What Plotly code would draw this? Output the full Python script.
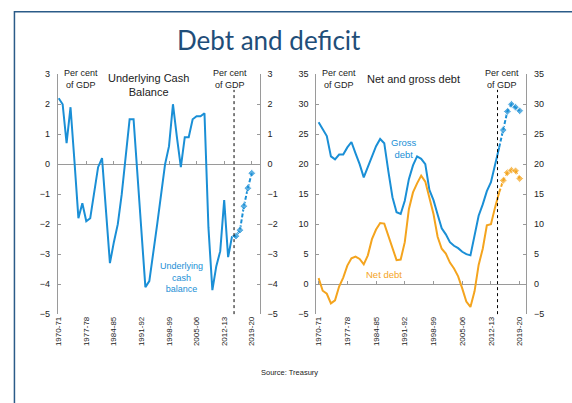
import plotly.graph_objects as go

# Financial years 1970-71 .. 2019-20
years = [f"{y}-{(y + 1) % 100:02d}" for y in range(1970, 2020)]
tick_years = years[::7]

# Underlying cash balance, per cent of GDP
ucb_actual = [2.2, 2.0, 0.7, 1.9, 0.1, -1.8, -1.3, -1.9, -1.8, -0.9,
              -0.1, 0.2, -1.5, -3.3, -2.6, -2.0, -1.0, 0.3, 1.5, 1.5,
              -0.3, -2.2, -4.1, -3.9, -3.0, -2.0, -1.0, 0.0, 0.6, 2.0,
              0.9, -0.1, 0.9, 0.9, 1.5, 1.6, 1.6, 1.7, -2.1, -4.2,
              -3.4, -2.9, -1.2, -3.1, -2.4]
ucb_projection = [-2.4, -2.4, -2.2, -1.4, -0.8, -0.3]

# Gross and net debt, per cent of GDP
gross_actual = [27.0, 25.9, 24.7, 21.3, 20.8, 21.6, 21.6, 22.8, 23.7, 21.8,
                20.0, 17.8, 19.5, 21.3, 23.0, 24.2, 23.5, 18.8, 14.5, 12.0,
                11.7, 13.9, 17.5, 19.8, 21.3, 20.9, 20.0, 15.7, 14.0, 11.6,
                9.3, 8.3, 7.0, 6.4, 6.0, 5.4, 5.0, 4.8, 8.3, 11.4,
                13.3, 15.5, 17.0, 20.0, 22.8]
gross_projection = [22.8, 25.7, 28.8, 30.0, 29.5, 28.9]

net_actual = [1.0, -1.1, -1.6, -3.2, -2.7, -0.4, 1.1, 3.1, 4.3, 4.6,
              4.2, 3.3, 4.8, 7.5, 9.1, 10.2, 10.1, 8.1, 5.9, 4.0,
              4.1, 7.0, 12.5, 15.3, 16.8, 18.1, 17.1, 14.5, 11.7, 7.9,
              5.9, 5.1, 3.6, 2.6, 1.3, -0.7, -2.9, -3.8, -1.2, 3.2,
              5.9, 9.8, 10.0, 12.8, 15.3]
net_projection = [15.3, 17.3, 18.6, 19.0, 18.9, 17.6]

BLUE = "#1A8FD6"
ORANGE = "#F4A41E"
AXIS_GREY = "#9A9A9A"
TEXT = "#222222"
FONT = "Liberation Sans, Arial, sans-serif"

W, H = 572, 403
idx = list(range(len(years)))
n_act = len(ucb_actual)
proj_x = idx[n_act - 1:]
tick_idx = idx[::7]

# panel boxes in pixels
top_px, bot_px = 71, 317
left_px = (55, 258)
right_px = (315, 526)
ydom = [1 - bot_px / H, 1 - top_px / H]


def px_dom(a, b):
    return [a / W, b / W]


def zero_pos(lo, hi):
    return ydom[0] + (0 - lo) / (hi - lo) * (ydom[1] - ydom[0])


proj_marker = [0] + [6] * (len(proj_x) - 1)
DASH = "4px,2px"

fig = go.Figure()

# Left panel: underlying cash balance
fig.add_trace(go.Scatter(x=idx[:n_act], y=ucb_actual, mode="lines",
                         line=dict(color=BLUE, width=2), xaxis="x", yaxis="y",
                         hoverinfo="skip"))
fig.add_trace(go.Scatter(x=proj_x, y=ucb_projection, mode="lines+markers",
                         line=dict(color=BLUE, width=2, dash=DASH),
                         marker=dict(symbol="diamond", size=proj_marker, color=BLUE),
                         xaxis="x", yaxis="y", hoverinfo="skip"))
fig.add_trace(go.Scatter(x=[], y=[], xaxis="x2", yaxis="y"))
fig.add_trace(go.Scatter(x=[], y=[], xaxis="x", yaxis="y2"))

# Right panel: net and gross debt
fig.add_trace(go.Scatter(x=idx[:n_act], y=gross_actual, mode="lines",
                         line=dict(color=BLUE, width=2), xaxis="x3", yaxis="y3",
                         hoverinfo="skip"))
fig.add_trace(go.Scatter(x=proj_x, y=gross_projection, mode="lines+markers",
                         line=dict(color=BLUE, width=2, dash=DASH),
                         marker=dict(symbol="diamond", size=proj_marker, color=BLUE),
                         xaxis="x3", yaxis="y3", hoverinfo="skip"))
fig.add_trace(go.Scatter(x=idx[:n_act], y=net_actual, mode="lines",
                         line=dict(color=ORANGE, width=2), xaxis="x3", yaxis="y3",
                         hoverinfo="skip"))
fig.add_trace(go.Scatter(x=proj_x, y=net_projection, mode="lines+markers",
                         line=dict(color=ORANGE, width=2, dash=DASH),
                         marker=dict(symbol="diamond", size=proj_marker, color=ORANGE),
                         xaxis="x3", yaxis="y3", hoverinfo="skip"))
fig.add_trace(go.Scatter(x=[], y=[], xaxis="x4", yaxis="y3"))
fig.add_trace(go.Scatter(x=[], y=[], xaxis="x3", yaxis="y4"))

tickfont_y = dict(family=FONT, size=9, color=TEXT)
tickfont_x = dict(family=FONT, size=8, color=TEXT)


def label_axis(dom, rng):
    return dict(domain=dom, range=rng, tickvals=tick_idx, ticktext=tick_years,
                tickangle=-90, tickfont=tickfont_x, showline=False, ticks="",
                showgrid=False, zeroline=False, fixedrange=True)


def tick_axis(over, rng, pos):
    return dict(overlaying=over, anchor="free", position=pos, range=rng,
                tickvals=tick_idx, showticklabels=False, ticks="inside",
                ticklen=3, tickcolor=AXIS_GREY, showline=False,
                showgrid=False, zeroline=False)


def y_axis(rng, dtick, side, anchor, over=None):
    d = dict(range=rng, dtick=dtick, tick0=0, ticks="inside", ticklen=3,
             tickcolor=AXIS_GREY, showline=True, linecolor=AXIS_GREY, linewidth=1,
             showgrid=False, zeroline=(over is None), zerolinecolor=AXIS_GREY,
             zerolinewidth=1, tickfont=tickfont_y, side=side, anchor=anchor,
             ticklabelstandoff=5)
    if over:
        d["overlaying"] = over
    else:
        d["domain"] = ydom
    return d


left_rng = [-0.25, 51.0]
right_rng = [-0.55, 50.6]

fig.update_layout(
    width=W, height=H, autosize=False,
    margin=dict(l=0, r=0, t=0, b=0),
    paper_bgcolor="white", plot_bgcolor="rgba(0,0,0,0)",
    showlegend=False,
    xaxis=dict(**label_axis(px_dom(*left_px), left_rng), anchor="y"),
    xaxis2=tick_axis("x", left_rng, zero_pos(-5, 3)),
    yaxis=y_axis([-5, 3], 1, "left", "x"),
    yaxis2=y_axis([-5, 3], 1, "right", "x", over="y"),
    xaxis3=dict(**label_axis(px_dom(*right_px), right_rng), anchor="y3"),
    xaxis4=tick_axis("x3", right_rng, zero_pos(-5, 35)),
    yaxis3=y_axis([-5, 35], 5, "left", "x3"),
    yaxis4=y_axis([-5, 35], 5, "right", "x3", over="y3"),
)

# Boundary between actual outcomes and projections
left_boundary = n_act - 0.5
right_boundary = n_act - 1.4
for xr, yr, xb in (("x", "y domain", left_boundary), ("x3", "y3 domain", right_boundary)):
    fig.add_shape(type="line", xref=xr, yref=yr, x0=xb, x1=xb, y0=0, y1=0.935,
                  line=dict(color="black", width=1, dash="dot"))

# Slide frame
fig.add_shape(type="rect", xref="paper", yref="paper",
              x0=11.5 / W, x1=1.2, y0=-0.2, y1=1 - 7 / H,
              line=dict(color="#2B5B88", width=1.5))


def note(text, x_px, y_px, size=9, color=TEXT, family=FONT):
    fig.add_annotation(text=text, xref="paper", yref="paper",
                       x=x_px / W, y=1 - y_px / H, xanchor="center", yanchor="middle",
                       showarrow=False, borderpad=0,
                       font=dict(family=family, size=size, color=color))


note("Debt and deficit", 267, 36, size=26, color="#1F4E79", family="Lato, Open Sans, sans-serif")

for cx in (78, 228, 338, 502):
    note("Per cent<br>of GDP", cx, 76, size=9)

note("Underlying Cash<br>Balance", 146, 82, size=11)
note("Net and gross debt", 413, 76, size=11)

note("Underlying<br>cash<br>balance", 179, 279, size=9, color=BLUE)
note("Gross<br>debt", 403, 147.5, size=9.5, color=BLUE)
note("Net debt", 383, 276, size=9.5, color=ORANGE)

note("Source: Treasury", 288, 377, size=7.5)

fig.write_html("out.html")
